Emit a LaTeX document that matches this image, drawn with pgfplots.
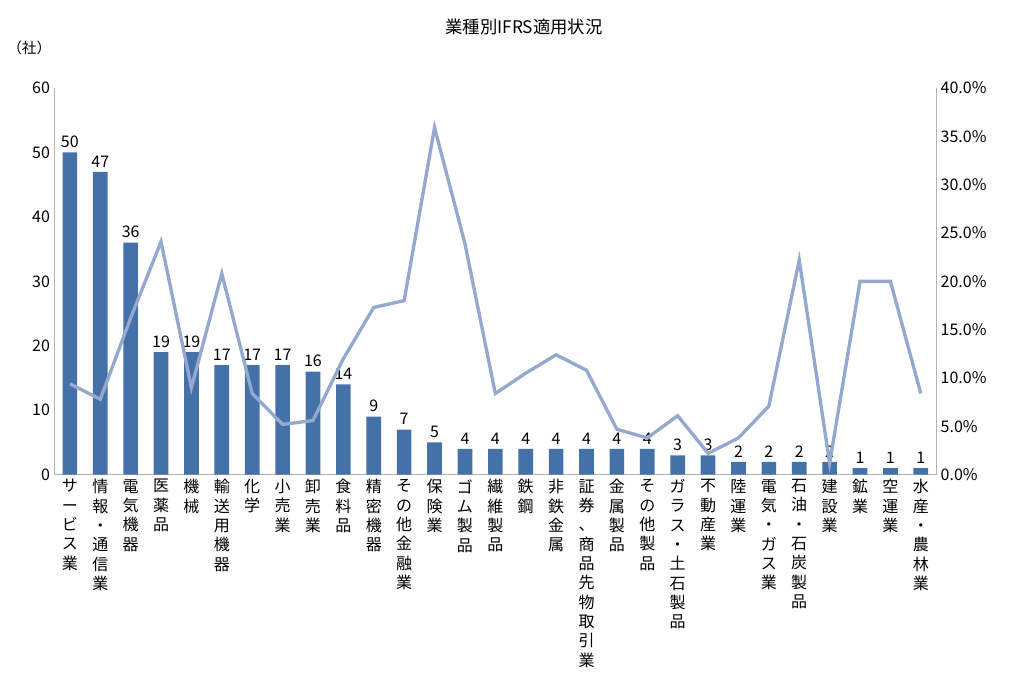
\documentclass[border=0pt]{standalone}
\usepackage{pgfplots}
\pgfplotsset{compat=1.18}
\usepackage{fontspec}
\setmainfont{Noto Sans CJK JP}
\definecolor{barc}{RGB}{68,114,168}
\definecolor{linec}{RGB}{148,168,208}
\begin{document}
\begin{tikzpicture}
\useasboundingbox (-41pt,-164pt) rectangle (727pt,356pt);
\pgfplotsset{every axis/.style={width=661pt,height=290pt,scale only axis,xmin=-0.5,xmax=28.5,
 axis line style={gray!60},tick style={draw=none},
 ticklabel style={font=\fontsize{12}{13}\selectfont},
 /pgf/number format/assume math mode=true}}
\begin{axis}[ymin=0,ymax=60,ytick={0,10,...,60},axis y line*=left,axis x line*=bottom,
 xtick={0,...,28},
 xticklabels={{サ\\ー\\ビ\\ス\\業},{情\\報\\・\\通\\信\\業},{電\\気\\機\\器},{医\\薬\\品},{機\\械},{輸\\送\\用\\機\\器},{化\\学},{小\\売\\業},{卸\\売\\業},{食\\料\\品},{精\\密\\機\\器},{そ\\の\\他\\金\\融\\業},{保\\険\\業},{ゴ\\ム\\製\\品},{繊\\維\\製\\品},{鉄\\鋼},{非\\鉄\\金\\属},{証\\券\\、\\商\\品\\先\\物\\取\\引\\業},{金\\属\\製\\品},{そ\\の\\他\\製\\品},{ガ\\ラ\\ス\\・\\土\\石\\製\\品},{不\\動\\産\\業},{陸\\運\\業},{電\\気\\・\\ガ\\ス\\業},{石\\油\\・\\石\\炭\\製\\品},{建\\設\\業},{鉱\\業},{空\\運\\業},{水\\産\\・\\農\\林\\業}},
 xticklabel style={align=center,anchor=north,font=\fontsize{12}{14.5}\selectfont},
 nodes near coords,every node near coord/.style={font=\fontsize{12}{13}\selectfont,black}]
\addplot[ybar,bar width=11pt,fill=barc,draw=none] coordinates {(0,50)(1,47)(2,36)(3,19)(4,19)(5,17)(6,17)(7,17)(8,16)(9,14)(10,9)(11,7)(12,5)(13,4)(14,4)(15,4)(16,4)(17,4)(18,4)(19,4)(20,3)(21,3)(22,2)(23,2)(24,2)(25,2)(26,1)(27,1)(28,1)};
\end{axis}
\node[font=\fontsize{11}{12}\selectfont] at (-19pt,320pt) {（社）};
\node[font=\fontsize{13}{15}\selectfont] at (352pt,336pt) {業種別IFRS適用状況};
\begin{axis}[ymin=0,ymax=40,ytick={0,5,...,40},axis y line*=right,axis x line=none,
 yticklabel={\pgfmathprintnumber[fixed,fixed zerofill,precision=1]{\tick}\%}]
\addplot[linec,line width=2.5pt] coordinates {(0,9.4)(1,7.8)(2,16.2)(3,24.1)(4,9.0)(5,20.8)(6,8.4)(7,5.2)(8,5.6)(9,12.0)(10,17.3)(11,18.0)(12,35.9)(13,23.9)(14,8.4)(15,10.5)(16,12.4)(17,10.8)(18,4.7)(19,3.8)(20,6.1)(21,2.2)(22,3.8)(23,7.1)(24,22.2)(25,1.2)(26,20)(27,20)(28,8.4)};
\end{axis}
\end{tikzpicture}
\end{document}
